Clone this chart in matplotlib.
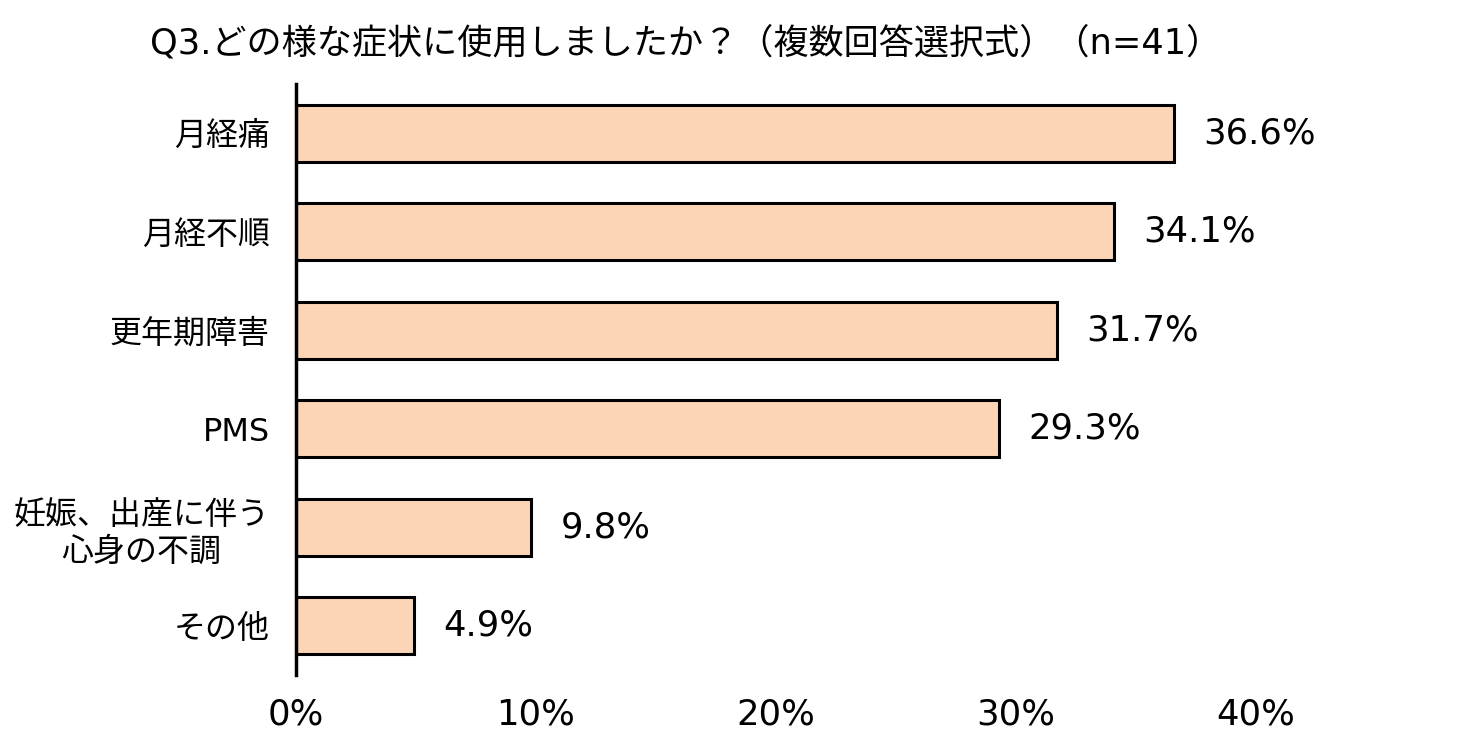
import matplotlib
matplotlib.use("Agg")
import matplotlib.pyplot as plt

plt.rcParams['font.family'] = ['DejaVu Sans', 'Noto Sans CJK JP']

categories = ["月経痛", "月経不順", "更年期障害", "PMS", "妊娠、出産に伴う\n心身の不調", "その他"]
values = [36.6, 34.1, 31.7, 29.3, 9.8, 4.9]
x_ticks = [0, 10, 20, 30, 40]
x_tick_labels = ["0%", "10%", "20%", "30%", "40%"]
title = "Q3.どの様な症状に使用しましたか？（複数回答選択式）（n=41）"

fig = plt.figure(figsize=(14.68, 7.55), dpi=100)
ax = fig.add_axes([296 / 1468, 80 / 755, (1256 - 296) / 1468, 591 / 755])

y = list(range(len(categories)))
ax.barh(y, values, height=0.58, color="#FBD5B5", edgecolor="black", linewidth=2.2)

for yi, v in zip(y, values):
    ax.annotate(f"{v}%", (v, yi), xytext=(21, 0), textcoords="offset points",
                va="center", ha="left", fontsize=25.5)

ax.set_ylim(len(categories) - 0.5, -0.5)
ax.set_xlim(0, 40)
ax.set_yticks(y)
ax.set_yticklabels(categories, fontsize=23, linespacing=1.25, multialignment="center")
ax.set_xticks(x_ticks)
ax.set_xticklabels(x_tick_labels, fontsize=25.5)
ax.tick_params(axis="x", length=0, pad=16)
ax.tick_params(axis="y", length=0, pad=19)

for s in ["top", "right", "bottom"]:
    ax.spines[s].set_visible(False)
ax.spines["left"].set_linewidth(2.5)

fig.text(150 / 1468, 1 - 43 / 755, title, fontsize=25.3, ha="left", va="center")

fig.savefig("out.png", dpi=100)
